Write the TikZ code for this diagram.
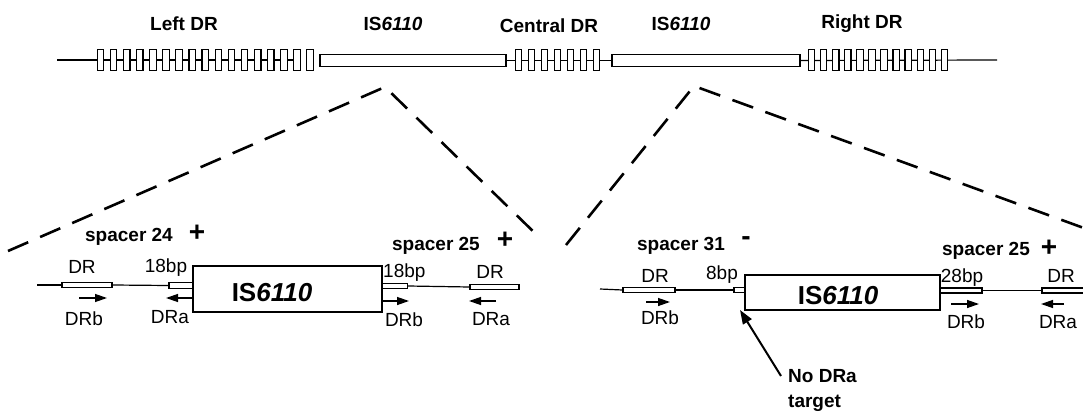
\documentclass[tikz,border=0pt]{standalone}
\usepackage{fontspec}
\setmainfont{Liberation Sans}
\usetikzlibrary{arrows.meta}
\pgfdeclarelayer{bg}
\pgfsetlayers{bg,main}
\begin{document}
\begin{tikzpicture}[x=1pt,y=-1pt,
  drbox/.style={draw, fill=white, line width=1.2pt, inner sep=0pt, minimum width=6.5pt, minimum height=21pt},
  isbox/.style={draw, fill=white, line width=1.4pt, inner sep=0pt, minimum height=12pt},
  seg/.style={draw, fill=white, line width=1.2pt, inner sep=0pt, minimum height=5.5pt},
  bigis/.style={draw, fill=white, line width=1.5pt, inner sep=0pt},
  wire/.style={line width=1.2pt},
  cone/.style={line width=2.6pt, dash pattern=on 22pt off 13pt},
  arr/.style={line width=1.3pt, -{Triangle[length=12pt,width=8pt]}},
  lbl/.style={font=\fontsize{19}{22}\selectfont\bfseries, inner sep=0pt, anchor=base},
  sm/.style={font=\fontsize{19}{22}\selectfont, inner sep=0pt, anchor=base},
  sign/.style={font=\fontsize{28}{28}\selectfont\bfseries, inner sep=0pt},
  istxt/.style={font=\fontsize{26}{30}\selectfont\bfseries, inner sep=0pt, anchor=base}
]
\useasboundingbox (0,0) rectangle (1083,414);

% ---------- top row ----------
\coordinate (Ls) at (57,60);
\coordinate (Re) at (997,60);
\foreach \i in {1,...,17} {\node[drbox] (L\i) at ({100.5+13.1*(\i-1)},60) {};}
\foreach \i in {1,...,7} {\node[drbox] (C\i) at ({518.5+13*(\i-1)},60) {};}
\foreach \i in {1,...,12} {\node[drbox] (R\i) at ({811.5+12.1*(\i-1)},60) {};}
\node[isbox, minimum width=186pt] (IS1) at (413,60.5) {};
\node[isbox, minimum width=188pt] (IS2) at (706,60.5) {};
\begin{pgfonlayer}{bg}
\draw[wire] (Ls) -- (L16.center);
\draw[wire] (IS1.east) -- (IS2.west);
\draw[wire] (IS2.east) -- (Re);
\end{pgfonlayer}

\node[lbl] (tL) at (184,31) {Left DR};
\node[lbl] (tI1) at (393,31) {IS\textit{6110}};
\node[lbl] (tC) at (549,33) {Central DR};
\node[lbl] (tI2) at (681,31) {IS\textit{6110}};
\node[lbl] (tR) at (862,29) {Right DR};

% ---------- dashed cones ----------
\coordinate (A1) at (385,87);
\coordinate (A1l) at (8,251);
\coordinate (A1r) at (541,239);
\draw[cone] (A1l) -- (A1) -- (A1r);
\coordinate (A2) at (694,86);
\coordinate (A2l) at (566,245);
\coordinate (A2r) at (1092,231);
\draw[cone] (A2l) -- (A2) -- (A2r);

% ---------- left panel ----------
\coordinate (P1s) at (37,285);
\node[seg, minimum width=50pt] (D1) at (87,285) {};
\node[seg, minimum width=24pt] (S1) at (181,285.5) {};
\node[bigis, minimum width=189pt, minimum height=46pt] (B1) at (287.5,289) {};
\node[seg, minimum width=25pt] (S2) at (395,286) {};
\node[seg, minimum width=49pt] (D2) at (494.5,287) {};
\draw[wire] (P1s) -- (D1.west);
\draw[wire] (D1.east) -- (S1.west);
\draw[wire] (S2.east) -- (D2.west);

\node[istxt] (t1) at (272,301) {IS\textit{6110}};
\node[lbl] (sp24) at (129,241) {spacer 24};
\node[sign] (pl1) at (197,233) {+};
\node[lbl] (sp25a) at (436,250) {spacer 25};
\node[sign] (pl2) at (505,240) {+};

\node[sm] (dr1) at (82,273) {DR};
\node[sm] (bp1) at (166,272) {18bp};
\node[sm, anchor=base west] (bp2) at (383,277) {18bp};
\node[sm] (dr2) at (490,278) {DR};

\coordinate (a1s) at (79,298);  \coordinate (a1e) at (107,298);
\coordinate (a2s) at (193,298); \coordinate (a2e) at (166,298);
\coordinate (a3s) at (383,301); \coordinate (a3e) at (409,301);
\coordinate (a4s) at (496,301); \coordinate (a4e) at (469,301);
\draw[arr] (a1s) -- (a1e);
\draw[arr] (a2s) -- (a2e);
\draw[arr] (a3s) -- (a3e);
\draw[arr] (a4s) -- (a4e);
\node[sm] (b1) at (84,325) {DRb};
\node[sm] (b2) at (170,323) {DRa};
\node[sm] (b3) at (404,326) {DRb};
\node[sm] (b4) at (491,325) {DRa};

% ---------- right panel ----------
\coordinate (P2s) at (600,289);
\node[seg, minimum width=52pt, minimum height=5pt] (D3) at (649,290) {};
\node[seg, minimum width=11pt] (S3) at (739.5,290) {};
\node[bigis, minimum width=195pt, minimum height=35pt] (B2) at (842.5,292.5) {};
\node[seg, minimum width=42pt, minimum height=5pt] (S4) at (961,290.5) {};
\node[seg, minimum width=52pt, minimum height=5pt] (D4) at (1068,290.5) {};
\draw[wire] (P2s) -- (D3.west);
\draw[wire] (D3.east) -- (S3.west);
\draw[wire] (S4.east) -- (D4.west);

\node[istxt] (t2) at (838,304) {IS\textit{6110}};
\node[lbl] (sp31) at (681,250) {spacer 31};
\node[sign] (mi1) at (746,241) {-};
\node[lbl] (sp25b) at (986,255) {spacer 25};
\node[sign] (pl3) at (1049,248) {+};

\node[sm] (dr3) at (655,282) {DR};
\node[sm] (bp3) at (722,279) {8bp};
\node[sm] (bp4) at (962,282) {28bp};
\node[sm] (dr4) at (1061,282) {DR};

\coordinate (c1s) at (646,302);  \coordinate (c1e) at (670,302);
\coordinate (c2s) at (951,304);  \coordinate (c2e) at (979,304);
\coordinate (c3s) at (1064,304); \coordinate (c3e) at (1041,304);
\draw[arr] (c1s) -- (c1e);
\draw[arr] (c2s) -- (c2e);
\draw[arr] (c3s) -- (c3e);
\node[sm] (e1) at (660,324) {DRb};
\node[sm] (e2) at (966,328) {DRb};
\node[sm] (e3) at (1058,328) {DRa};

% ---------- pointer ----------
\node[font=\fontsize{19}{25}\selectfont\bfseries, align=left, anchor=north west, inner sep=0pt] (nod) at (788,369) {No DRa\\target};
\coordinate (ptail) at (781,376);
\coordinate (phead) at (740,310);
\draw[line width=2pt, -{Triangle[length=14pt,width=10pt]}] (ptail) -- (phead);
\end{tikzpicture}
\end{document}
